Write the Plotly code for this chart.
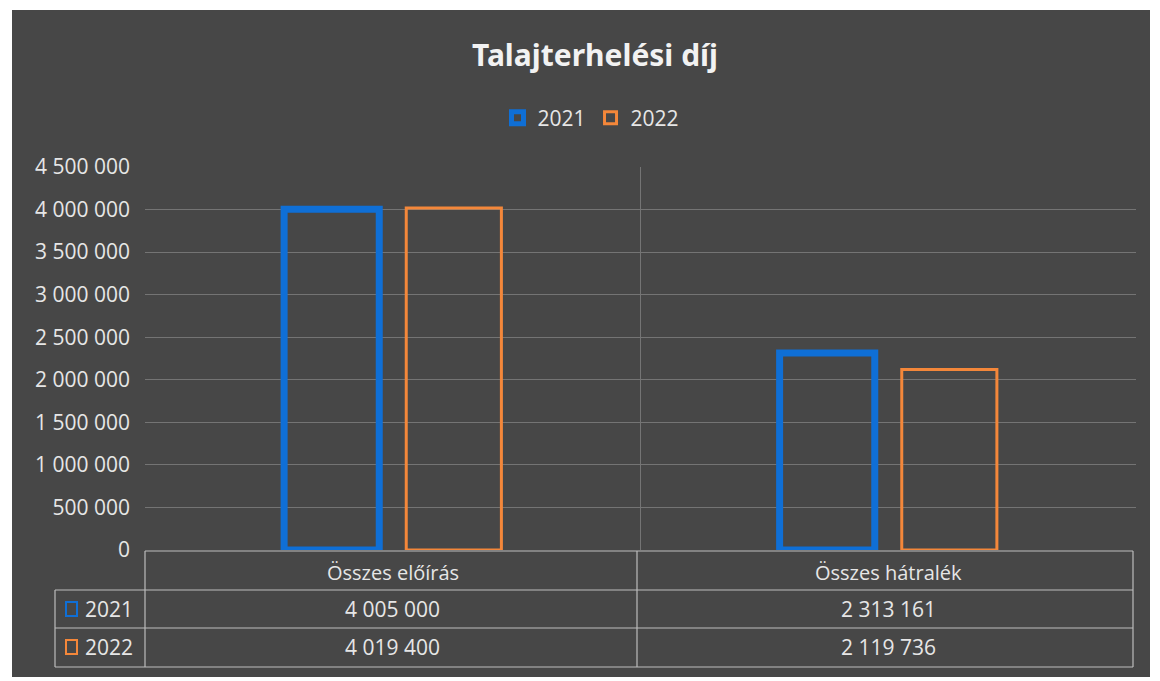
"""Talajterhelési díj - bar chart with data table."""

import plotly.graph_objects as go

CATEGORIES = ["Összes előírás", "Összes hátralék"]
YEARS = ["2021", "2022"]
VALUES_2021 = [4005000, 2313161]
VALUES_2022 = [4019400, 2119736]
Y_TICKS = [0, 500000, 1000000, 1500000, 2000000, 2500000, 3000000, 3500000, 4000000, 4500000]

BG = "#474747"
TEXT = "#e6e6e6"
GRID = "#747474"
BLUE = "#0f6fd6"
ORANGE = "#f4873a"
FONT = "Open Sans"

W, H = 1160, 681
PLOT_L, PLOT_R, PLOT_T, PLOT_B = 145, 1136, 167, 550


def px_x(px):
    return (px - PLOT_L) / (PLOT_R - PLOT_L)


def px_y(py):
    return (PLOT_B - py) / (PLOT_B - PLOT_T)


def fmt(v):
    return f"{v:,}".replace(",", " ")


fig = go.Figure()
series = [(YEARS[0], VALUES_2021, BLUE, 7), (YEARS[1], VALUES_2022, ORANGE, 3)]
for name, vals, color, lw in series:
    fig.add_trace(go.Bar(
        x=CATEGORIES,
        y=vals,
        name=name,
        marker=dict(color="rgba(0,0,0,0)", line=dict(color=color, width=lw)),
    ))

# data table below the plot
rows_y = [551, 590, 628, 667]
line_style = dict(color="#bdbdbd", width=1.2)
shapes = [
    # white scan border around the dark chart
    dict(type="rect", xref="paper", yref="paper", x0=px_x(0), x1=px_x(W), y0=px_y(H), y1=px_y(0),
         fillcolor="white", line_width=0, layer="below"),
    dict(type="rect", xref="paper", yref="paper", x0=px_x(12), x1=px_x(1150), y0=px_y(677), y1=px_y(10),
         fillcolor=BG, line_width=0, layer="below"),
    dict(type="line", xref="paper", yref="paper", x0=px_x(PLOT_L), x1=px_x(1133),
         y0=px_y(rows_y[0]), y1=px_y(rows_y[0]), line=line_style),
]
for ry in rows_y[1:]:
    shapes.append(dict(type="line", xref="paper", yref="paper", x0=px_x(55), x1=px_x(1133),
                       y0=px_y(ry), y1=px_y(ry), line=line_style))
for vx, top in [(PLOT_L, rows_y[0]), (637, rows_y[0]), (1133, rows_y[0]), (55, rows_y[1])]:
    shapes.append(dict(type="line", xref="paper", yref="paper", x0=px_x(vx), x1=px_x(vx),
                       y0=px_y(top), y1=px_y(rows_y[-1]), line=line_style))

annotations = []
for i, cat in enumerate(CATEGORIES):
    annotations.append(dict(x=i, xref="x", y=px_y(572), yref="paper", yanchor="middle",
                            text=cat, showarrow=False, font=dict(size=20, color=TEXT)))
row_centers = [609, 647]
for (name, vals, color, _), cy in zip(series, row_centers):
    shapes.append(dict(type="rect", xref="paper", yref="paper", x0=px_x(66), x1=px_x(77),
                       y0=px_y(cy + 7), y1=px_y(cy - 7), line=dict(color=color, width=2),
                       fillcolor="rgba(0,0,0,0)"))
    annotations.append(dict(x=px_x(83), xref="paper", y=px_y(cy), yref="paper", yanchor="middle",
                            text=name, xanchor="left", showarrow=False,
                            font=dict(size=21, color=TEXT)))
    for i, v in enumerate(vals):
        annotations.append(dict(x=i, xref="x", y=px_y(cy), yref="paper", yanchor="middle",
                                text=fmt(v), showarrow=False, font=dict(size=21, color=TEXT)))

fig.update_layout(
    width=W,
    height=H,
    separators=", ",
    font=dict(family=FONT, color=TEXT, size=20),
    paper_bgcolor=BG,
    plot_bgcolor=BG,
    margin=dict(l=PLOT_L, r=W - PLOT_R, t=PLOT_T, b=H - PLOT_B, autoexpand=False),
    title=dict(text="<b>Talajterhelési díj</b>", x=595 / W, xanchor="center",
               y=1 - 55 / H, yanchor="middle",
               font=dict(family="Noto Sans", size=30, color="#f2f2f2")),
    legend=dict(orientation="h", x=px_x(591), xanchor="center", y=px_y(118), yanchor="middle",
                font=dict(size=21, color=TEXT), bgcolor="rgba(0,0,0,0)", itemwidth=30),
    bargap=0.507,
    bargroupgap=0.221,
    shapes=shapes,
    annotations=annotations,
    showlegend=True,
)
fig.update_xaxes(showticklabels=False, tickson="boundaries", showgrid=True, gridcolor=GRID,
                 gridwidth=1, showline=False, zeroline=False, ticks="")
fig.update_yaxes(range=[0, 4500000], tickvals=Y_TICKS, tickformat=",d", showgrid=True,
                 gridcolor=GRID, gridwidth=1, zeroline=False, showline=False,
                 ticklabelstandoff=14, tickfont=dict(size=21, color=TEXT))

# page body has a default 8px margin; drop it so the chart fills the window
fig.write_html("out.html", config={"displayModeBar": False},
               post_script="document.body.style.margin='0';")
